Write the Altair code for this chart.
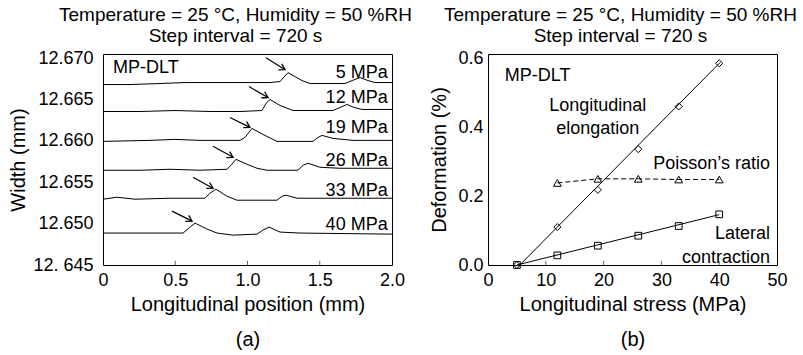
import altair as alt
import pandas as pd

FONT = "Liberation Sans"

# ---------------- Panel (a): width profiles ----------------
trace_names = ["5 MPa", "12 MPa", "19 MPa", "26 MPa", "33 MPa", "40 MPa"]

pos_5 = [0.0, 0.187, 0.394, 0.567, 0.775, 0.983, 1.156, 1.225, 1.280, 1.329, 1.377, 1.433, 1.675, 1.723, 1.779, 1.834, 1.882, 2.0]
wid_5 = [12.66681, 12.66681, 12.66693, 12.66705, 12.66705, 12.66705, 12.66705, 12.66717, 12.66825, 12.66777, 12.66729, 12.66693, 12.66693, 12.66729, 12.66765, 12.66729, 12.66705, 12.66705]

pos_12 = [0.0, 0.256, 0.498, 0.740, 0.948, 1.100, 1.128, 1.156, 1.225, 1.315, 1.592, 1.640, 1.689, 1.737, 1.792, 2.0]
wid_12 = [12.66355, 12.66355, 12.66367, 12.66355, 12.66355, 12.66367, 12.66452, 12.66500, 12.66428, 12.66367, 12.66367, 12.66404, 12.66440, 12.66404, 12.66380, 12.66380]

pos_19 = [0.0, 0.325, 0.498, 0.671, 0.948, 0.983, 1.031, 1.107, 1.204, 1.453, 1.488, 1.516, 1.592, 1.730, 2.0]
wid_19 = [12.65994, 12.66006, 12.66018, 12.66006, 12.66006, 12.66042, 12.66151, 12.66078, 12.65994, 12.65994, 12.66042, 12.66066, 12.66030, 12.66006, 12.66006]

pos_26 = [0.0, 0.256, 0.464, 0.671, 0.858, 0.886, 0.920, 0.997, 1.066, 1.135, 1.349, 1.384, 1.419, 1.502, 1.640, 2.0]
wid_26 = [12.65645, 12.65645, 12.65657, 12.65645, 12.65657, 12.65705, 12.65777, 12.65717, 12.65669, 12.65645, 12.65645, 12.65705, 12.65729, 12.65681, 12.65669, 12.65669]

pos_33 = [0.0, 0.097, 0.221, 0.464, 0.706, 0.740, 0.782, 0.858, 0.927, 1.204, 1.239, 1.267, 1.343, 2.0]
wid_33 = [12.65295, 12.65319, 12.65295, 12.65307, 12.65307, 12.65367, 12.65416, 12.65331, 12.65283, 12.65283, 12.65331, 12.65343, 12.65307, 12.65307]

pos_40 = [0.0, 0.256, 0.554, 0.595, 0.637, 0.720, 0.789, 0.900, 1.066, 1.107, 1.149, 1.225, 1.363, 2.0]
wid_40 = [12.64886, 12.64886, 12.64886, 12.64946, 12.65006, 12.64934, 12.64886, 12.64861, 12.64873, 12.64922, 12.64958, 12.64898, 12.64886, 12.64873]

arrow_x_tail = [1.128, 1.010, 0.879, 0.761, 0.623, 0.478]
arrow_y_tail = [12.67006, 12.66657, 12.66283, 12.65934, 12.65560, 12.65151]
arrow_x_tip = [1.260, 1.142, 1.017, 0.900, 0.761, 0.616]
arrow_y_tip = [12.66861, 12.66524, 12.66163, 12.65801, 12.65428, 12.65030]

label_x = [1.97] * 6
label_y = [12.66825, 12.66524, 12.66151, 12.65753, 12.65392, 12.64982]

a_ticks = [0.5, 1.0, 1.5]

# ---------------- Panel (b): deformation vs stress ----------------
stress = [5, 12, 19, 26, 33, 40]
elongation = [0.0, 0.110, 0.218, 0.336, 0.460, 0.585]
contraction = [0.0, 0.028, 0.056, 0.085, 0.113, 0.147]
poisson_stress = [12, 19, 26, 33, 40]
poisson_ratio = [0.238, 0.250, 0.250, 0.248, 0.248]
elong_fit_x = [5.5, 40.2]
elong_fit_y = [0.0, 0.588]
contr_fit_x = [5.0, 40.0]
contr_fit_y = [0.0, 0.146]
b_ticks = [10, 20, 30, 40]

ann_text = ["Longitudinal", "elongation", "Poisson\u2019s ratio", "Lateral", "contraction"]
ann_x = [19.0, 19.0, 48.8, 48.8, 48.8]
ann_y = [0.461, 0.394, 0.293, 0.090, 0.020]
ann_align = ["center", "center", "right", "right", "right"]

# ---------------- build tables ----------------
rows = []
for name, xs, ys in zip(trace_names,
                        [pos_5, pos_12, pos_19, pos_26, pos_33, pos_40],
                        [wid_5, wid_12, wid_19, wid_26, wid_33, wid_40]):
    for i, (xv, yv) in enumerate(zip(xs, ys)):
        rows.append({"trace": name, "i": i, "pos": xv, "width": yv})
df_a = pd.DataFrame(rows)
df_arrows = pd.DataFrame({"x": arrow_x_tail, "y": arrow_y_tail, "x2": arrow_x_tip, "y2": arrow_y_tip})
df_labels = pd.DataFrame({"x": label_x, "y": label_y, "t": trace_names})
df_at = pd.DataFrame({"x": a_ticks})

YMIN_A, YMAX_A = 12.645, 12.6705
xs_a = alt.Scale(domain=[0, 2])
ys_a = alt.Scale(domain=[YMIN_A, YMAX_A])

AX = dict(labelFont=FONT, labelFontSize=18, labelColor="black",
          titleFont=FONT, titleFontSize=20, titleFontWeight="normal", titleColor="black",
          ticks=False, domain=False, grid=False, labelOverlap=False)

x_axis_a = alt.Axis(values=[0, 0.5, 1.0, 1.5, 2.0],
                    labelExpr="datum.value == 0 ? '0' : format(datum.value, '.1f')",
                    title=["Longitudinal position (mm)", "(a)"],
                    titleLineHeight=35, labelFlush=False, labelPadding=6, titlePadding=5, **AX)
y_axis_a = alt.Axis(values=[12.645, 12.650, 12.655, 12.660, 12.665, 12.670],
                    labelExpr="datum.value < 12.6455 ? '12. 645' : format(datum.value, '.3f')",
                    title="Width (mm)", labelPadding=10, titlePadding=4, **AX)

base_a = alt.Chart(df_a)
lines_a = base_a.mark_line(color="black", strokeWidth=1).encode(
    x=alt.X("pos:Q", scale=xs_a, axis=x_axis_a),
    y=alt.Y("width:Q", scale=ys_a, axis=y_axis_a),
    detail="trace:N",
    order="i:Q",
)
arrows = alt.Chart(df_arrows).mark_rule(color="black", strokeWidth=1.2).encode(
    x=alt.X("x:Q", scale=xs_a), y=alt.Y("y:Q", scale=ys_a),
    x2="x2:Q", y2="y2:Q")
heads = alt.Chart(df_arrows).mark_point(
    shape="M-1,-0.6L0,0L-1,0.6", filled=False, color="black",
    strokeWidth=1.3, size=130, angle=29, opacity=1).encode(
    x=alt.X("x2:Q", scale=xs_a), y=alt.Y("y2:Q", scale=ys_a))
labels_a = alt.Chart(df_labels).mark_text(
    align="right", baseline="middle", font=FONT, fontSize=18, color="black").encode(
    x=alt.X("x:Q", scale=xs_a), y=alt.Y("y:Q", scale=ys_a), text="t:N")
mp_a = alt.Chart(pd.DataFrame({"x": [0.07], "y": [12.66886], "t": ["MP-DLT"]})).mark_text(
    align="left", baseline="middle", font=FONT, fontSize=18, color="black").encode(
    x=alt.X("x:Q", scale=xs_a), y=alt.Y("y:Q", scale=ys_a), text="t:N")
ticks_a = alt.Chart(df_at).mark_rule(color="#666", strokeWidth=1).encode(
    x=alt.X("x:Q", scale=xs_a),
    y=alt.datum(YMIN_A, scale=ys_a), y2=alt.datum(YMIN_A + 0.0005))

title_params = dict(
    text=["Temperature = 25 \u00b0C, Humidity = 50 %RH", "Step interval = 720 s"],
    fontSize=19, font=FONT, fontWeight="normal", anchor="middle",
    dx=-12, offset=3, lineHeight=21, color="black")

panel_a = alt.layer(ticks_a, lines_a, arrows, heads, labels_a, mp_a).properties(
    width=289, height=211, title=alt.TitleParams(**title_params))

# panel b
df_elong = pd.DataFrame({"s": stress, "v": elongation})
df_contr = pd.DataFrame({"s": stress, "v": contraction})
df_pois = pd.DataFrame({"s": poisson_stress, "v": poisson_ratio})
df_efit = pd.DataFrame({"s": elong_fit_x, "v": elong_fit_y})
df_cfit = pd.DataFrame({"s": contr_fit_x, "v": contr_fit_y})
df_ann = pd.DataFrame({"x": ann_x, "y": ann_y, "t": ann_text, "al": ann_align})
df_bt = pd.DataFrame({"x": b_ticks})

xs_b = alt.Scale(domain=[0, 50])
ys_b = alt.Scale(domain=[0, 0.612])
x_axis_b = alt.Axis(values=[0, 10, 20, 30, 40, 50], format="d",
                    title=["Longitudinal stress (MPa)", "(b)"],
                    titleLineHeight=35, labelFlush=False, labelPadding=6, titlePadding=5, **AX)
y_axis_b = alt.Axis(values=[0, 0.1, 0.2, 0.3, 0.4, 0.5, 0.6], format=".1f",
                    title="Deformation (%)", labelPadding=5, titlePadding=8, **AX)

efit = alt.Chart(df_efit).mark_line(color="black", strokeWidth=1).encode(
    x=alt.X("s:Q", scale=xs_b, axis=x_axis_b), y=alt.Y("v:Q", scale=ys_b, axis=y_axis_b))
cfit = alt.Chart(df_cfit).mark_line(color="black", strokeWidth=1).encode(
    x=alt.X("s:Q", scale=xs_b), y=alt.Y("v:Q", scale=ys_b))
pline = alt.Chart(df_pois).mark_line(color="black", strokeWidth=1, strokeDash=[5, 3]).encode(
    x=alt.X("s:Q", scale=xs_b), y=alt.Y("v:Q", scale=ys_b))
pts_e = alt.Chart(df_elong).mark_point(shape="diamond", filled=False, color="black",
                                       size=50, strokeWidth=1, opacity=1).encode(
    x=alt.X("s:Q", scale=xs_b), y=alt.Y("v:Q", scale=ys_b))
pts_c = alt.Chart(df_contr).mark_point(shape="square", filled=False, color="black",
                                       size=45, strokeWidth=1, opacity=1).encode(
    x=alt.X("s:Q", scale=xs_b), y=alt.Y("v:Q", scale=ys_b))
pts_p = alt.Chart(df_pois).mark_point(shape="triangle-up", filled=False, color="black",
                                      size=60, strokeWidth=1, opacity=1).encode(
    x=alt.X("s:Q", scale=xs_b), y=alt.Y("v:Q", scale=ys_b))
ann_c = alt.Chart(df_ann[df_ann["al"] == "center"]).mark_text(
    align="center", baseline="middle", font=FONT, fontSize=18, color="black").encode(
    x=alt.X("x:Q", scale=xs_b), y=alt.Y("y:Q", scale=ys_b), text="t:N")
ann_r = alt.Chart(df_ann[df_ann["al"] == "right"]).mark_text(
    align="right", baseline="middle", font=FONT, fontSize=18, color="black").encode(
    x=alt.X("x:Q", scale=xs_b), y=alt.Y("y:Q", scale=ys_b), text="t:N")
mp_b = alt.Chart(pd.DataFrame({"x": [2.9], "y": [0.548], "t": ["MP-DLT"]})).mark_text(
    align="left", baseline="middle", font=FONT, fontSize=18, color="black").encode(
    x=alt.X("x:Q", scale=xs_b), y=alt.Y("y:Q", scale=ys_b), text="t:N")
ticks_b = alt.Chart(df_bt).mark_rule(color="#666", strokeWidth=1).encode(
    x=alt.X("x:Q", scale=xs_b),
    y=alt.datum(0, scale=ys_b), y2=alt.datum(0.012))

panel_b = alt.layer(ticks_b, efit, cfit, pline, pts_e, pts_c, pts_p, ann_c, ann_r, mp_b).properties(
    width=289, height=211, title=alt.TitleParams(**title_params))

chart = alt.hconcat(panel_a, panel_b, spacing=96, bounds="flush").properties(
    padding={"left": 8, "top": 5, "right": 5, "bottom": 5},
    background="white"
).configure_view(stroke="black", strokeWidth=1)

chart.save("out.html", embed_options={"renderer": "svg", "actions": False})
